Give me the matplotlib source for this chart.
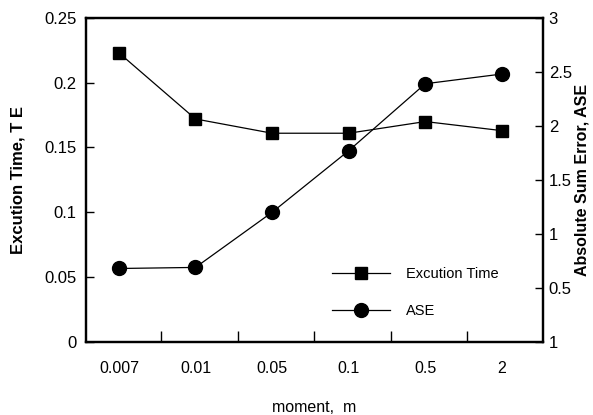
import matplotlib
matplotlib.use('Agg')
import matplotlib.pyplot as plt
import numpy as np

# data
moment_labels = ['0.007', '0.01', '0.05', '0.1', '0.5', '2']
exec_time = [0.223, 0.172, 0.161, 0.161, 0.170, 0.163]
ase = [0.68, 0.69, 1.20, 1.77, 2.39, 2.48]
right_tick_labels = ['1', '0.5', '1', '1.5', '2', '2.5', '3']

plt.rcParams['font.family'] = ['Liberation Sans', 'DejaVu Sans']

fig = plt.figure(figsize=(5.93, 4.15), dpi=100)
ax = fig.add_axes([0.145, 0.176, 0.771, 0.781])
ax2 = ax.twinx()

x = np.arange(len(moment_labels))

l1, = ax.plot(x, exec_time, color='black', lw=0.9, marker='s', markersize=9,
              label='Excution Time')
l2, = ax2.plot(x, ase, color='black', lw=0.9, marker='o', markersize=10,
               label='ASE')

ax.set_xlim(-0.43, 5.54)
ax.set_ylim(0, 0.25)
ax2.set_ylim(0, 3)

ax.set_yticks(np.arange(0, 0.251, 0.05))
ax.set_yticklabels(['0', '0.05', '0.1', '0.15', '0.2', '0.25'])
ax2.set_yticks(np.arange(0, 3.01, 0.5))
ax2.set_yticklabels(right_tick_labels)

# ticks sit between the categories, labels under the points
ax.set_xticks(x[:-1] + 0.55)
ax.set_xticklabels([])
ax.set_xticks(x, minor=True)
ax.set_xticklabels(moment_labels, minor=True)
ax.tick_params(axis='x', which='minor', length=0, pad=14, labelsize=11.5)
ax.tick_params(axis='x', which='major', direction='in', length=8, width=1)

ax.tick_params(axis='y', direction='in', length=6, width=1, labelsize=12, pad=7)
ax2.tick_params(axis='y', direction='in', length=6, width=1, labelsize=12, pad=4)

for a in (ax, ax2):
    for s in a.spines.values():
        s.set_linewidth(1.6)

ax.set_xlabel('moment,  m', fontsize=11.5, labelpad=17)
ax.set_ylabel('Excution Time, T E', fontsize=12, fontweight='bold', labelpad=13)
ax2.set_ylabel('Absolute Sum Error, ASE', fontsize=11.5, fontweight='bold', labelpad=2)

ax.legend([l1, l2], ['Excution Time', 'ASE'], loc='upper left',
          bbox_to_anchor=(0.538, 0.231), frameon=False, fontsize=10.5,
          handlelength=4.0, labelspacing=1.6, handletextpad=1.1,
          borderpad=0, borderaxespad=0)

fig.savefig('out.png', dpi=100)
